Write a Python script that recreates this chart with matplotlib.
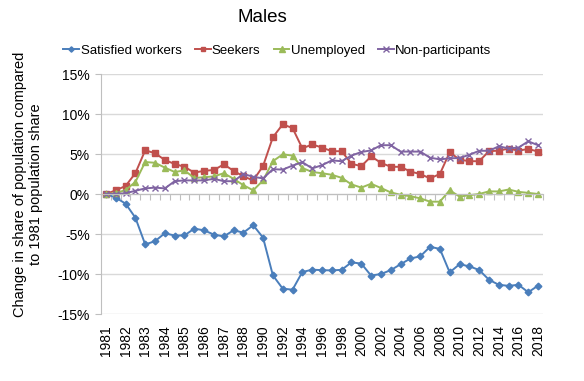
import matplotlib
matplotlib.use("Agg")
import matplotlib.pyplot as plt
import numpy as np

plt.rcParams['font.family'] = ['Liberation Sans', 'DejaVu Sans']
plt.rcParams['axes.unicode_minus'] = False

# shown tick labels (every 2nd category: half-yearly to 1988, yearly after)
labels = ['1981', '1982', '1983', '1984', '1985', '1986', '1987', '1988',
          '1990', '1992', '1994', '1996', '1998', '2000', '2002', '2004',
          '2006', '2008', '2010', '2012', '2014', '2016', '2018']

satisfied = [0, -0.46, -1.2, -2.96, -6.3, -5.9, -4.9, -5.2, -5.17, -4.33,
             -4.54, -5.08, -5.3, -4.54, -4.83, -3.9, -5.46, -10.17, -11.83, -11.96,
             -9.75, -9.46, -9.52, -9.55, -9.48, -8.54, -8.7, -10.2, -10.0, -9.52,
             -8.78, -8.06, -7.8, -6.6, -6.86, -9.8, -8.78, -9.04, -9.5, -10.72,
             -11.35, -11.48, -11.35, -12.28, -11.45]
seekers = [0, 0.46, 1.0, 2.6, 5.46, 5.1, 4.25, 3.75, 3.4, 2.67,
           2.9, 3.0, 3.7, 2.9, 2.2, 1.7, 3.5, 7.1, 8.7, 8.25,
           5.7, 6.2, 5.8, 5.35, 5.35, 3.78, 3.48, 4.7, 3.9, 3.4,
           3.4, 2.8, 2.5, 1.95, 2.5, 5.22, 4.3, 4.1, 4.1, 5.35,
           5.42, 5.68, 5.42, 5.63, 5.3]
unemployed = [0, 0.1, 0.5, 1.5, 4.0, 3.9, 3.3, 2.75, 2.95, 2.0,
              2.1, 2.2, 2.6, 1.9, 1.1, 0.46, 1.7, 4.1, 4.96, 4.8,
              3.25, 2.75, 2.6, 2.4, 2.02, 1.2, 0.8, 1.28, 0.75, 0.2,
              -0.1, -0.28, -0.54, -0.96, -0.96, 0.46, -0.32, -0.15, 0.0, 0.33,
              0.32, 0.56, 0.27, 0.14, 0.0]
nonpart = [0, 0.0, 0.1, 0.4, 0.7, 0.8, 0.7, 1.6, 1.7, 1.7,
           1.7, 1.9, 1.6, 1.6, 2.5, 2.15, 1.95, 3.1, 3.05, 3.55,
           3.98, 3.2, 3.6, 4.2, 4.1, 4.8, 5.25, 5.45, 6.1, 6.1,
           5.3, 5.3, 5.3, 4.54, 4.33, 4.46, 4.5, 4.9, 5.4, 5.4,
           5.96, 5.7, 5.8, 6.58, 6.1]

x = np.arange(len(satisfied))

fig = plt.figure(figsize=(5.84, 3.81), dpi=100)
ax = fig.add_axes([101/584, 1-314/381, 442/584, 240/381])

ax.plot(x, satisfied, color='#4A7EBB', lw=1.4, marker='D', ms=3.4, label='Satisfied workers')
ax.plot(x, seekers, color='#C0504D', lw=1.4, marker='s', ms=4.4, label='Seekers')
ax.plot(x, unemployed, color='#9BBB59', lw=1.4, marker='^', ms=4.7, label='Unemployed')
ax.plot(x, nonpart, color='#8064A2', lw=1.4, marker='x', ms=4.7, mew=1.0, label='Non-participants')

ax.set_xlim(-0.5, len(x) - 0.5)
ax.set_ylim(-15, 15)
ax.set_yticks(np.arange(-15, 16, 5))
ax.set_yticklabels([f'{v}%' for v in range(-15, 16, 5)], fontsize=10)
ax.yaxis.grid(True, color='#D9D9D9', lw=1)
ax.set_axisbelow(True)

# horizontal axis sits at zero with tick marks between categories
ax.spines['bottom'].set_position(('data', 0))
ax.spines['bottom'].set_color('#BFBFBF')
ax.spines['left'].set_color('#BFBFBF')
ax.spines['top'].set_visible(False)
ax.spines['right'].set_visible(False)
ax.set_xticks(np.arange(-0.5, len(x), 1))
ax.tick_params(axis='x', length=4.5, color='#BFBFBF', labelbottom=False)
ax.tick_params(axis='y', length=4, color='#BFBFBF', pad=4)

# category labels at the bottom of the plot
ax2 = ax.twiny()
ax2.set_xlim(ax.get_xlim())
ax2.xaxis.set_ticks_position('bottom')
ax2.set_xticks(x[::2])
ax2.set_xticklabels(labels, rotation=90, fontsize=10)
ax2.tick_params(axis='x', length=0, pad=8)
for s in ax2.spines.values():
    s.set_visible(False)

fig.text(262/584, 1-18/381, 'Males', ha='center', va='center', fontsize=13.5)
fig.text(28/584, 1-184/381, 'Change in share of population compared\nto 1981 population share',
         rotation=90, ha='center', va='center', fontsize=10.5, linespacing=1.1)

fig.legend(loc='center', bbox_to_anchor=(277.5/584, 1-51/381), ncol=4, frameon=False,
           fontsize=9.5, handlelength=1.2, handletextpad=0.1, columnspacing=1.0,
           markerscale=0.8)

fig.savefig('out.png', dpi=100)
